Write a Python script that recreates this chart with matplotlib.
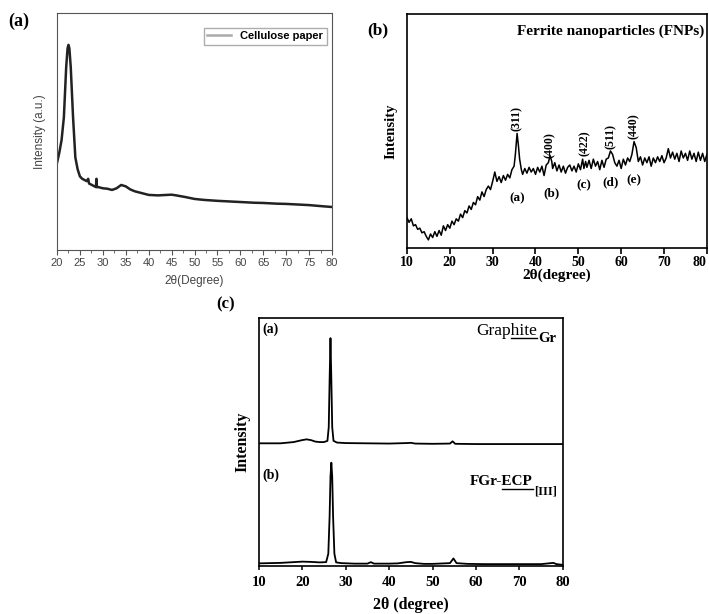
import numpy as np
import matplotlib
matplotlib.use('Agg')
import matplotlib.pyplot as plt
from matplotlib.ticker import MultipleLocator

# (a) cellulose paper
x_a = [20.0, 20.5, 21.0, 21.5, 22.0, 22.3, 22.5, 22.7, 23.0, 23.5, 24.0, 24.5, 25.0, 25.5,
       26.0, 26.5, 26.8, 27.0, 27.5, 28.0, 28.5, 28.6, 28.7, 29.0, 30.0, 31.0, 32.0, 33.0,
       34.0, 35.0, 36.0, 37.0, 38.0, 39.0, 40.0, 42.0, 44.0, 45.0, 46.0, 48.0, 50.0, 52.0,
       55.0, 58.0, 60.0, 63.0, 65.0, 68.0, 70.0, 73.0, 75.0, 78.0, 80.0]
y_a = [0.367, 0.41, 0.464, 0.56, 0.77, 0.85, 0.865, 0.85, 0.77, 0.56, 0.39, 0.34, 0.31, 0.30,
       0.295, 0.29, 0.30, 0.28, 0.275, 0.27, 0.265, 0.30, 0.265, 0.265, 0.26, 0.258, 0.253, 0.26,
       0.274, 0.268, 0.255, 0.247, 0.242, 0.237, 0.232, 0.230, 0.232, 0.233, 0.230, 0.223, 0.215, 0.211,
       0.207, 0.204, 0.202, 0.199, 0.198, 0.195, 0.194, 0.191, 0.189, 0.184, 0.181]

# (b) ferrite nanoparticles
x_b = [10.0, 10.5, 11.0, 11.5, 12.0, 12.5, 13.0, 13.5, 14.0, 14.5, 15.0, 15.5, 16.0, 16.5,
       17.0, 17.5, 18.0, 18.5, 19.0, 19.5, 20.0, 20.5, 21.0, 21.5, 22.0, 22.5, 23.0, 23.5,
       24.0, 24.5, 25.0, 25.5, 26.0, 26.5, 27.0, 27.5, 28.0, 28.5, 29.0, 29.5, 30.0, 30.5,
       31.0, 31.5, 32.0, 32.5, 33.0, 33.5, 34.0, 34.5, 35.0, 35.3, 35.7, 36.0, 36.3, 36.7,
       37.0, 37.5, 38.0, 38.5, 39.0, 39.5, 40.0, 40.5, 41.0, 41.5, 42.0, 42.5, 43.0, 43.4,
       43.8, 44.0, 44.5, 45.0, 45.5, 46.0, 46.5, 47.0, 47.5, 48.0, 48.5, 49.0, 49.5, 50.0,
       50.5, 51.0, 51.3, 51.7, 52.0, 52.5, 53.0, 53.5, 54.0, 54.5, 55.0, 55.5, 56.0, 56.5,
       57.0, 57.5, 58.0, 58.5, 59.0, 59.5, 60.0, 60.5, 61.0, 61.5, 62.0, 62.5, 63.0, 63.5,
       64.0, 64.5, 65.0, 65.5, 66.0, 66.5, 67.0, 67.5, 68.0, 68.5, 69.0, 69.5, 70.0, 70.5,
       71.0, 71.5, 72.0, 72.5, 73.0, 73.5, 74.0, 74.5, 75.0, 75.5, 76.0, 76.5, 77.0, 77.5,
       78.0, 78.5, 79.0, 79.5, 80.0]
y_b = [0.13, 0.11, 0.125, 0.095, 0.10, 0.08, 0.085, 0.065, 0.07, 0.05, 0.035, 0.06, 0.045, 0.07,
       0.05, 0.075, 0.055, 0.095, 0.075, 0.10, 0.085, 0.115, 0.10, 0.125, 0.115, 0.145, 0.13, 0.16,
       0.15, 0.18, 0.165, 0.195, 0.185, 0.22, 0.205, 0.24, 0.22, 0.25, 0.265, 0.25, 0.285, 0.325,
       0.285, 0.305, 0.28, 0.31, 0.29, 0.315, 0.30, 0.335, 0.35, 0.40, 0.49, 0.44, 0.38, 0.335,
       0.315, 0.34, 0.32, 0.345, 0.325, 0.34, 0.315, 0.345, 0.325, 0.35, 0.31, 0.355, 0.365, 0.395,
       0.37, 0.34, 0.365, 0.33, 0.355, 0.325, 0.35, 0.32, 0.345, 0.355, 0.33, 0.35, 0.325, 0.36,
       0.335, 0.38, 0.34, 0.37, 0.345, 0.375, 0.34, 0.38, 0.35, 0.37, 0.335, 0.375, 0.345, 0.38,
       0.385, 0.415, 0.40, 0.365, 0.35, 0.375, 0.34, 0.38, 0.355, 0.385, 0.37, 0.40, 0.455, 0.43,
       0.37, 0.39, 0.355, 0.385, 0.365, 0.39, 0.35, 0.385, 0.365, 0.39, 0.37, 0.395, 0.365, 0.385,
       0.425, 0.385, 0.41, 0.38, 0.405, 0.37, 0.415, 0.385, 0.405, 0.375, 0.415, 0.38, 0.405, 0.37,
       0.41, 0.375, 0.405, 0.37, 0.40]
hkl_labels = ['(311)', '(400)', '(422)', '(511)', '(440)']
hkl_x = [35.7, 43.4, 51.4, 57.6, 63.0]
hkl_y = [0.555, 0.44, 0.448, 0.477, 0.52]
peak_tags = ['(a)', '(b)', '(c)', '(d)', '(e)']
tag_x = [35.8, 43.8, 51.2, 57.6, 63.0]
tag_y = [0.213, 0.235, 0.27, 0.28, 0.29]

# (c) graphite and FGr-ECP
x_gr = [10, 15, 18, 20, 21, 22, 23, 24, 25, 25.8, 26.1, 26.3, 26.5, 26.7, 26.9, 27.2, 28, 30,
        35, 40, 44, 45, 46, 50, 54, 54.6, 55.2, 60, 70, 80]
y_gr = [0.495, 0.495, 0.50, 0.508, 0.511, 0.508, 0.502, 0.50, 0.50, 0.505, 0.56, 0.75, 0.919,
        0.75, 0.56, 0.505, 0.498, 0.496, 0.495, 0.494, 0.496, 0.497, 0.494, 0.493, 0.494, 0.503,
        0.493, 0.492, 0.492, 0.492]
x_fgr = [10, 15, 18, 20, 22, 24, 25.5, 26.0, 26.3, 26.5, 26.7, 26.9, 27.1, 27.4, 27.8, 29, 32,
         35, 35.8, 36.5, 40, 42, 44, 45, 46, 48, 50, 54, 54.8, 55.5, 58, 62, 70, 75, 77.8,
         78.5, 80]
y_fgr = [0.011, 0.013, 0.016, 0.018, 0.017, 0.015, 0.016, 0.05, 0.2, 0.36, 0.417, 0.36, 0.2,
         0.05, 0.015, 0.012, 0.010, 0.010, 0.016, 0.010, 0.010, 0.011, 0.016, 0.017, 0.012,
         0.009, 0.009, 0.012, 0.031, 0.012, 0.009, 0.008, 0.008, 0.008, 0.013, 0.008, 0.005]

serif = 'Liberation Serif'
sans = 'Liberation Sans'

fig = plt.figure(figsize=(7.09, 6.14), dpi=100)


def underline_tail(ax, txt, tail, y):
    # line under the last part of a text, like the source figure
    r = fig.canvas.get_renderer()
    bb = txt.get_window_extent(r)
    tmp = ax.text(0, 0, tail, fontproperties=txt.get_fontproperties())
    w = tmp.get_window_extent(r).width
    tmp.remove()
    inv = ax.transAxes.inverted()
    x0 = inv.transform((bb.x1 - w, 0))[0]
    x1 = inv.transform((bb.x1, 0))[0]
    ax.plot([x0, x1], [y, y], transform=ax.transAxes, color='black', lw=1.0)


# ---- panel (a)
ax1 = fig.add_axes([0.0804, 0.593, 0.388, 0.386])
ax1.plot(x_a, y_a, color='#222222', lw=1.8, label='Cellulose paper')
ax1.set_xlim(20, 80)
ax1.set_ylim(0, 1)
ax1.set_xticks(range(20, 81, 5))
ax1.xaxis.set_minor_locator(MultipleLocator(2.5))
ax1.set_yticks([])
for s in ax1.spines.values():
    s.set_color('#555555')
ax1.tick_params(axis='x', which='major', direction='out', length=3.5, color='#555555',
                labelsize=8, labelcolor='#444444', pad=2.5)
ax1.tick_params(axis='x', which='minor', direction='out', length=2, color='#555555')
for lab in ax1.get_xticklabels():
    lab.set_family(sans)
ax1.set_xlabel('2θ(Degree)', family=sans, fontsize=8.5, color='#444444', labelpad=5)
ax1.set_ylabel('Intensity (a.u.)', family=sans, fontsize=8.5, color='#444444', labelpad=8)
leg = ax1.legend(loc='upper right', prop={'family': sans, 'weight': 'bold', 'size': 8},
                 frameon=True, fancybox=False, handlelength=2.2, borderpad=0.3,
                 bbox_to_anchor=(1.0, 0.96))
leg.get_frame().set_edgecolor('#999999')
leg.get_lines()[0].set_color('#aaaaaa')
fig.text(0.011, 0.966, '(a)', family=serif, weight='bold', fontsize=13, va='center')

# ---- panel (b)
ax2 = fig.add_axes([0.574, 0.596, 0.423, 0.381])
ax2.plot(x_b, y_b, color='black', lw=1.1)
ax2.set_xlim(10, 80)
ax2.set_ylim(0, 1)
ax2.set_xticks(range(10, 81, 10))
ax2.set_yticks([])
for s in ax2.spines.values():
    s.set_linewidth(1.2)
ax2.tick_params(axis='x', direction='out', length=4, width=1.2, labelsize=10, pad=1.5)
for lab in ax2.get_xticklabels():
    lab.set_family(serif)
    lab.set_weight('bold')
ax2.get_xticklabels()[-1].set_horizontalalignment('right')
ax2.set_xlabel('2θ(degree)', family=serif, weight='bold', fontsize=11, labelpad=0)
ax2.set_ylabel('Intensity', family=serif, weight='bold', fontsize=10.5, labelpad=7)
ax2.text(0.99, 0.927, 'Ferrite nanoparticles (FNPs)', transform=ax2.transAxes, ha='right',
         va='center', family=serif, weight='bold', fontsize=11)
for lab, xx, yy in zip(hkl_labels, hkl_x, hkl_y):
    ax2.text(xx, yy, lab, rotation=90, ha='center', va='center', family=serif,
             fontsize=8.5, weight='bold')
for lab, xx, yy in zip(peak_tags, tag_x, tag_y):
    ax2.text(xx, yy, lab, ha='center', va='center', family=serif, fontsize=9.5, weight='bold')
fig.text(0.518, 0.95, '(b)', family=serif, weight='bold', fontsize=12.5, va='center')

# ---- panel (c)
ax3 = fig.add_axes([0.365, 0.078, 0.429, 0.404])
ax3.plot(x_gr, y_gr, color='black', lw=1.3)
ax3.plot(x_fgr, y_fgr, color='black', lw=1.3)
ax3.set_xlim(10, 80)
ax3.set_ylim(0, 1)
ax3.set_xticks(range(10, 81, 10))
ax3.set_yticks([])
for s in ax3.spines.values():
    s.set_linewidth(1.2)
ax3.tick_params(axis='x', direction='out', length=3, width=1.1, labelsize=10.5, pad=4)
for lab in ax3.get_xticklabels():
    lab.set_family(serif)
    lab.set_weight('bold')
ax3.set_xlabel('2θ (degree)', family=serif, weight='bold', fontsize=11.5, labelpad=6)
ax3.set_ylabel('Intensity', family=serif, weight='bold', fontsize=11.5, labelpad=6)
ax3.text(0.012, 0.956, '(a)', transform=ax3.transAxes, family=serif, weight='bold',
         fontsize=10, va='center')
ax3.text(0.012, 0.367, '(b)', transform=ax3.transAxes, family=serif, weight='bold',
         fontsize=10, va='center')
t_gr = ax3.text(0.914, 0.93, 'Graphite', transform=ax3.transAxes, ha='right', va='baseline',
                family=serif, fontsize=12.5)
ax3.text(0.92, 0.905, 'Gr', transform=ax3.transAxes, ha='left', va='baseline',
         family=serif, weight='bold', fontsize=10.5)
underline_tail(ax3, t_gr, 'hite', 0.919)
t_fgr = ax3.text(0.90, 0.327, 'FGr-ECP', transform=ax3.transAxes, ha='right', va='baseline',
                 family=serif, weight='bold', fontsize=11)
ax3.text(0.906, 0.29, '[III]', transform=ax3.transAxes, ha='left', va='baseline',
         family=serif, weight='bold', fontsize=9)
underline_tail(ax3, t_fgr, 'ECP', 0.31)
fig.text(0.305, 0.505, '(c)', family=serif, weight='bold', fontsize=12, va='center')

fig.savefig('out.png', dpi=100)
